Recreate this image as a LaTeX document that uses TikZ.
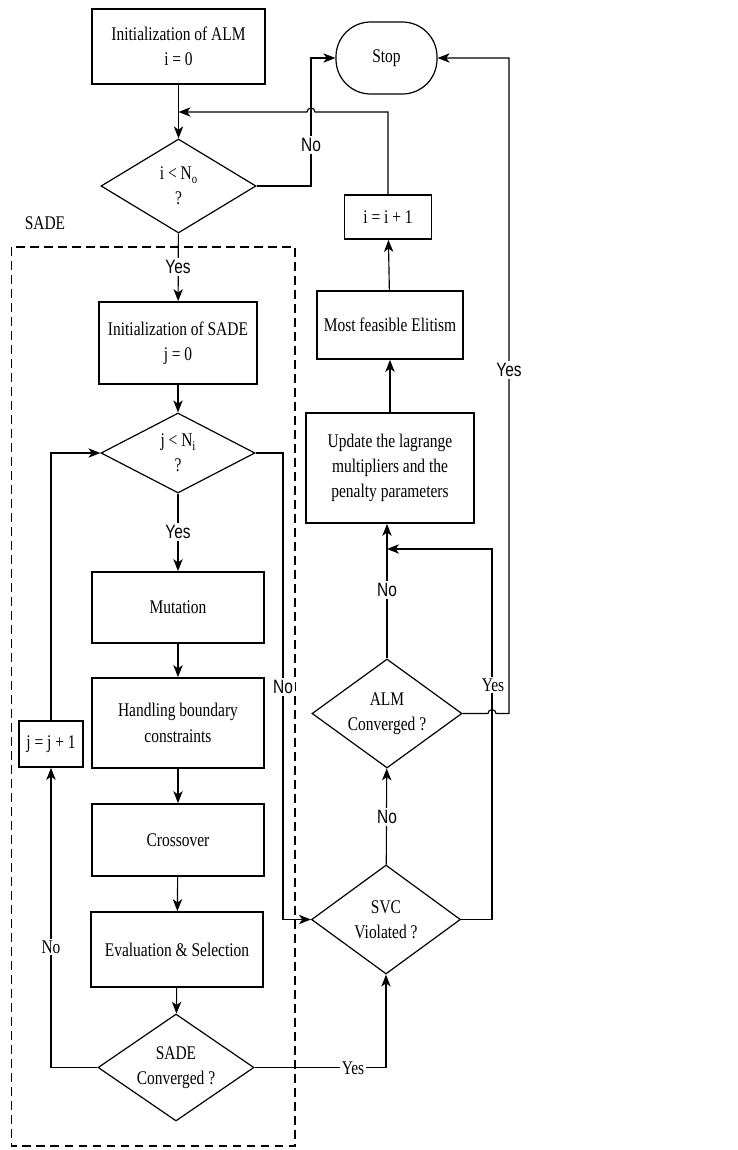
\documentclass[tikz,border=0pt]{standalone}
\usepackage{fontspec}
\setmainfont[FakeStretch=0.8]{Liberation Serif}
\newfontfamily\sanslbl[FakeStretch=0.8]{Liberation Sans}
\usetikzlibrary{arrows.meta,shapes.geometric,calc}

\newcommand{\lowsub}[1]{\raisebox{-0.45ex}{\fontsize{10}{10}\selectfont #1}}

\tikzset{
  box/.style={draw, line width=1.3pt, align=center, inner sep=0pt,
    font=\fontsize{14.5}{19}\selectfont},
  cond/.style={draw, diamond, aspect=1.4, line width=0.9pt, align=center,
    inner sep=0pt, font=\fontsize{14.5}{19}\selectfont},
  term/.style={draw, line width=0.9pt, rounded corners=26pt, inner sep=0pt,
    font=\fontsize{14.5}{19}\selectfont},
  conn/.style={line width=0.85pt},
  arr/.style={conn, -{Stealth[length=9pt,width=7pt,inset=2.5pt]}},
  lbl/.style={fill=white, inner sep=1.5pt, font=\sanslbl\fontsize{14.5}{16}\selectfont},
  slbl/.style={fill=white, inner sep=1.5pt, font=\fontsize{14.5}{16}\selectfont},
  sadebox/.style={line width=1.1pt, dash pattern=on 6.5pt off 4pt},
}

\begin{document}
\begin{tikzpicture}[x=0.75pt,y=-0.75pt]
\useasboundingbox (0,0) rectangle (738,1150);
% ALM loop
\node[box, minimum width=129.75pt, minimum height=56.25pt] (initALM) at (178.5,46.5) {Initialization of ALM\\ i = 0};
\node[term, minimum width=75.75pt, minimum height=54pt] (stop) at (386.5,58) {Stop};
\node[cond, minimum width=116.25pt, minimum height=70.5pt] (decI) at (178.5,186) {i {<} N\lowsub{o}\\ ?};
\node[box, minimum width=65.25pt, minimum height=33pt] (incI) at (388,217) {i = i + 1};
\node[box, minimum width=109.5pt, minimum height=51pt] (elit) at (390,325) {Most feasible Elitism};
\node[box, minimum width=126pt, minimum height=82.5pt] (upd) at (390,468) {Update the lagrange\\ multipliers and the\\ penalty parameters};
\node[cond, minimum width=112.5pt, minimum height=81.75pt] (almConv) at (387,713.5) {ALM\\ Converged ?};
\node[cond, minimum width=111.75pt, minimum height=81.75pt] (svc) at (386,919.5) {SVC\\ Violated ?};
% SADE loop
\draw[sadebox] (11.5,247) rectangle (295,1146);
\node[font=\fontsize{14.5}{16}\selectfont] (sadeName) at (45,223) {SADE};
\node[box, minimum width=118.5pt, minimum height=61.5pt] (initSADE) at (178,343) {Initialization of SADE\\ j = 0};
\node[cond, minimum width=115.5pt, minimum height=60pt] (decJ) at (178,453) {j {<} N\lowsub{i}\\ ?};
\node[box, minimum width=129pt, minimum height=53.25pt] (mut) at (178,607.5) {Mutation};
\node[box, minimum width=129pt, minimum height=67.5pt] (hand) at (178,723) {Handling boundary\\ constraints};
\node[box, minimum width=129pt, minimum height=54pt] (cross) at (178,840) {Crossover};
\node[box, minimum width=129pt, minimum height=56.25pt] (evalsel) at (177,949.5) {Evaluation \& Selection};
\node[cond, minimum width=117pt, minimum height=80.25pt] (sadeConv) at (176,1067.5) {SADE\\ Converged ?};
\node[box, minimum width=48pt, minimum height=34.5pt] (incJ) at (51,744) {j = j + 1};
% helper coordinates
\coordinate (xNo) at (311,0);
\coordinate (yBack) at (0,112);
\coordinate (xSvc) at (283,0);
\coordinate (xRight) at (492,0);
\coordinate (yUpd) at (0,549);
\coordinate (xYes) at (509,0);
% arrows
\draw[arr] (initALM) -- (decI);
\draw[arr] (decI.east) -| (xNo |- stop.west) -- (stop.west);
\draw[arr] (incI.north) -- (incI.north |- yBack) -- ($(xNo |- yBack)+(4,0)$)
  arc[start angle=0, end angle=-180, radius=4] -- (initALM.south |- yBack);
\draw[arr] (decI) -- (initSADE);
\draw[arr] (initSADE) -- (decJ);
\draw[arr] (decJ) -- (mut);
\draw[arr] (mut) -- (hand);
\draw[arr] (hand) -- (cross);
\draw[arr] (cross) -- (evalsel);
\draw[arr] (evalsel) -- (sadeConv);
\draw[arr] (sadeConv.west) -| (incJ.south);
\draw[arr] (incJ.north) |- (decJ.west);
\draw[arr] (decJ.east) -| (xSvc |- svc.west) -- (svc.west);
\draw[arr] (sadeConv.east) -| (svc.south);
\draw[arr] (svc) -- (almConv);
\draw[arr] (svc.east) -| (xRight |- yUpd) -- (almConv.north |- yUpd);
\draw[arr] (almConv) -- (almConv.north |- upd.south);
\draw[arr] (almConv.east) -- ($(xRight |- almConv.east)+(-4,0)$)
  arc[start angle=180, end angle=360, radius=4] -- (xYes |- almConv.east)
  -- (xYes |- stop.east) -- (stop.east);
\draw[arr] (upd) -- (elit);
\draw[arr] (elit) -- (incI);
% labels
\node[lbl] (noI) at (311,145) {No};
\node[lbl] (yesI) at (178,267) {Yes};
\node[lbl] (yesJ) at (178,532) {Yes};
\node[slbl] (noJ) at (51,947) {No};
\node[lbl] (noSvc) at (283,687) {No};
\node[slbl] (yesSade) at (353,1068) {Yes};
\node[lbl] (noViol) at (387,817) {No};
\node[lbl] (noAlm) at (387,590) {No};
\node[slbl] (yesAlm) at (493,685) {Yes};
\node[lbl] (yesStop) at (509,370) {Yes};
\end{tikzpicture}
\end{document}
